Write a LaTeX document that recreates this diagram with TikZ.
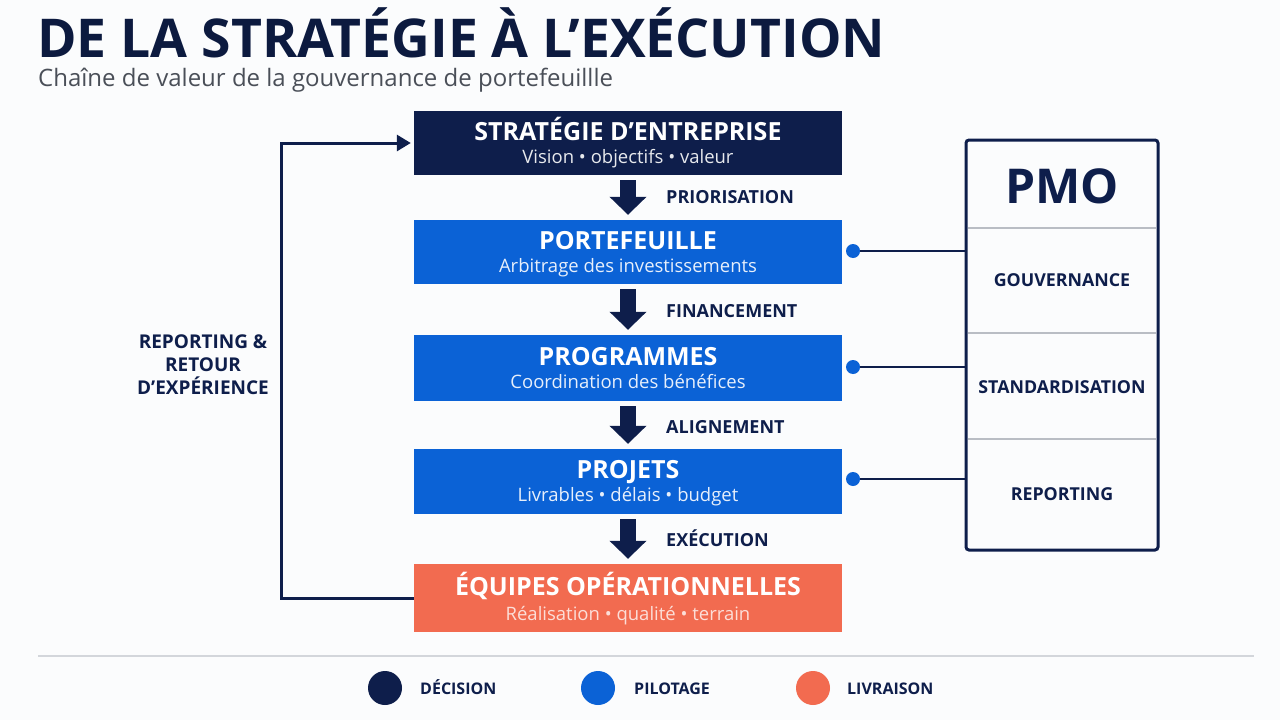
\documentclass[tikz,border=0pt]{standalone}
\usepackage{fontspec}
\setmainfont{Open Sans}
\usetikzlibrary{arrows.meta,calc}
\definecolor{navy}{HTML}{0E1E4B}
\definecolor{titlec}{HTML}{0C1A3F}
\definecolor{blue1}{HTML}{0B62D6}
\definecolor{orange1}{HTML}{F26B50}
\definecolor{greyt}{HTML}{4A4F58}
\definecolor{sepc}{HTML}{B9BDC4}
\definecolor{linec}{HTML}{D3D6DB}
\definecolor{bgc}{HTML}{FBFCFD}
\begin{document}
\begin{tikzpicture}[x=1pt,y=-1pt,
  box/.style={minimum width=428pt, inner sep=0pt},
  btitle/.style={anchor=base, inner sep=0pt, text=white, font=\fontsize{25}{28}\selectfont\bfseries},
  bsub/.style={anchor=base, inner sep=0pt, font=\fontsize{18.5}{22}\selectfont},
  flowarrow/.style={draw=navy, line width=16pt, -{Triangle[width=36pt,length=18pt]}, shorten <=5pt, shorten >=5pt},
  flowlabel/.style={anchor=base west, text=navy, font=\fontsize{18}{20}\selectfont\bfseries, inner sep=0pt},
  pmolabel/.style={anchor=base, text=navy, font=\fontsize{17.8}{20}\selectfont\bfseries, inner sep=0pt},
  dotc/.style={circle, fill=blue1, minimum size=14pt, inner sep=0pt},
  link/.style={draw=navy, line width=1.5pt},
  sepline/.style={draw=sepc, line width=1.5pt},
  legdot/.style={circle, minimum size=34pt, inner sep=0pt},
  legtext/.style={anchor=base west, text=navy, font=\fontsize{16}{20}\selectfont\bfseries, inner sep=0pt},
  fb/.style={draw=navy, line width=3pt, -{Triangle[width=16pt,length=14pt]}}
]
\useasboundingbox (0,0) rectangle (1280,720);
\fill[bgc] (0,0) rectangle (1280,720);

% title
\node[anchor=base west, inner sep=0pt, text=titlec, font=\fontsize{53.5}{60}\selectfont\bfseries] (title) at (37,57) {DE LA STRATÉGIE À L’EXÉCUTION};
\node[anchor=base west, inner sep=0pt, text=greyt, font=\fontsize{24}{28}\selectfont] (subtitle) at (38,86) {Chaîne de valeur de la gouvernance de portefeuillle};

% boxes
\node[box, fill=navy, minimum height=64pt] (s1) at (628,143) {};
\node[box, fill=blue1, minimum height=64pt] (s2) at (628,252) {};
\node[box, fill=blue1, minimum height=66pt] (s3) at (628,368) {};
\node[box, fill=blue1, minimum height=65pt] (s4) at (628,481.5) {};
\node[box, fill=orange1, minimum height=68pt] (s5) at (628,598) {};

\node[btitle] (s1t) at ($(s1.center)+(0,-3)$) {STRATÉGIE D’ENTREPRISE};
\node[bsub, text=white!90!navy] (s1s) at ($(s1.center)+(0,20)$) {Vision • objectifs • valeur};
\node[btitle] (s2t) at ($(s2.center)+(0,-3)$) {PORTEFEUILLE};
\node[bsub, text=white!90!blue1] (s2s) at ($(s2.center)+(0,20)$) {Arbitrage des investissements};
\node[btitle] (s3t) at ($(s3.center)+(0,-3)$) {PROGRAMMES};
\node[bsub, text=white!90!blue1] (s3s) at ($(s3.center)+(0,20)$) {Coordination des bénéfices};
\node[btitle] (s4t) at ($(s4.center)+(0,-3)$) {PROJETS};
\node[bsub, text=white!90!blue1] (s4s) at ($(s4.center)+(0,20)$) {Livrables • délais • budget};
\node[btitle] (s5t) at ($(s5.center)+(0,-3)$) {ÉQUIPES OPÉRATIONNELLES};
\node[bsub, text=white!78!orange1] (s5s) at ($(s5.center)+(0,22)$) {Réalisation • qualité • terrain};

% flow arrows
\draw[flowarrow] (s1.south) -- (s2.north);
\draw[flowarrow] (s2.south) -- (s3.north);
\draw[flowarrow] (s3.south) -- (s4.north);
\draw[flowarrow] (s4.south) -- (s5.north);
\node[flowlabel] (l1) at (666,203.5) {PRIORISATION};
\node[flowlabel] (l2) at (666,317.5) {FINANCEMENT};
\node[flowlabel] (l3) at (666,433.5) {ALIGNEMENT};
\node[flowlabel] (l4) at (666,546.5) {EXÉCUTION};

% feedback loop
\coordinate (fbc) at (281,598);
\draw[fb] (s5.west) -- (fbc) |- ([xshift=-3pt]s1.west);
\node[text=navy, font=\fontsize{19}{23}\selectfont\bfseries, align=center, inner sep=0pt] (fbl) at (203,365) {REPORTING \&\\RETOUR\\D’EXPÉRIENCE};

% PMO
\node[draw=navy, line width=3pt, rounded corners=3pt, minimum width=192pt, minimum height=410pt, inner sep=0pt] (pmo) at (1062,345) {};
\draw[sepline] (968,228) -- (1156,228);
\draw[sepline] (968,333) -- (1156,333);
\draw[sepline] (968,439) -- (1156,439);
\node[anchor=base, text=navy, font=\fontsize{48}{56}\selectfont\bfseries, inner sep=0pt] (pmot) at (1062,203) {PMO};
\node[pmolabel] (p1) at (1062,286.5) {GOUVERNANCE};
\node[pmolabel] (p2) at (1062,393.5) {STANDARDISATION};
\node[pmolabel] (p3) at (1062,500.5) {REPORTING};

% dots and links
\node[dotc] (d1) at (853,251) {};
\node[dotc] (d2) at (853,367) {};
\node[dotc] (d3) at (853,479) {};
\draw[link] (d1.east) -- (d1 -| pmo.west);
\draw[link] (d2.east) -- (d2 -| pmo.west);
\draw[link] (d3.east) -- (d3 -| pmo.west);

% bottom line & legend
\coordinate (la) at (38,656);
\coordinate (lb) at (1254,656);
\draw[draw=linec, line width=1.5pt] (la) -- (lb);
\node[legdot, fill=navy] (c1) at (385,688) {};
\node[legtext] (t1) at (420,694) {DÉCISION};
\node[legdot, fill=blue1] (c2) at (598,688) {};
\node[legtext] (t2) at (634,694) {PILOTAGE};
\node[legdot, fill=orange1] (c3) at (813,688) {};
\node[legtext] (t3) at (847,694) {LIVRAISON};
\end{tikzpicture}
\end{document}
